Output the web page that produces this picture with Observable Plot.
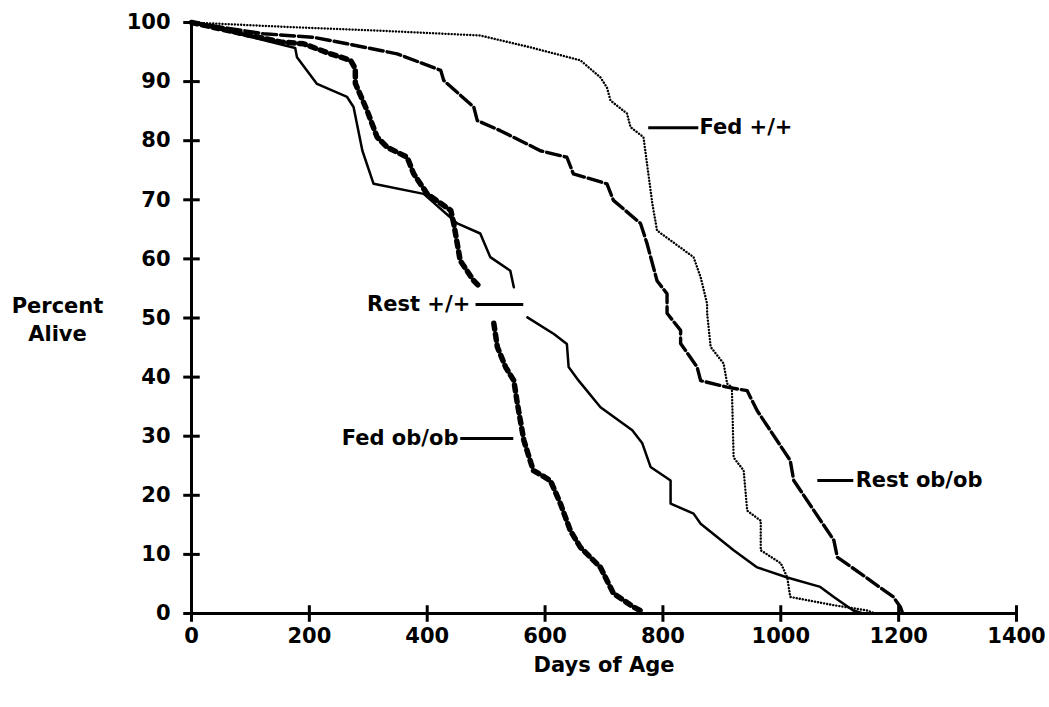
<!DOCTYPE html>
<html>
<head>
<meta charset="utf-8">
<script src="https://cdn.jsdelivr.net/npm/d3@7"></script>
<script src="https://cdn.jsdelivr.net/npm/@observablehq/plot@0.6"></script>
<style>
  html, body { margin: 0; padding: 0; background: #fff; }
  svg { display: block; }
</style>
</head>
<body>
<div id="chart"></div>
<script>
// ---- Data (days of age, percent alive) ----
// null entries mark the gaps left in the curves around the "Rest +/+" label
const restWT = [[0,100],[176,95.7],[179,94.1],[213,89.6],[264,87.4],[275,85.7],[290,78.3],[309,72.7],[394,71.0],[451,66.0],[490,64.3],[507,60.3],[541,58.0],[547,55.2],[null,null],[570,50.1],[615,47.3],[637,45.6],[640,41.7],[657,39.4],[694,34.9],[748,31.0],[765,28.8],[779,24.8],[813,22.5],[813,18.6],[852,16.9],[864,15.2],[920,10.7],[960,7.8],[1011,6.1],[1067,4.5],[1090,2.8],[1123,0.5],[1140,0]];
const fedOb = [[0,100],[151,96.7],[190,96.4],[236,94.7],[270,93.6],[278,92.2],[278,89.7],[298,85.1],[315,80.6],[332,78.9],[366,77.2],[377,74.4],[400,71.0],[440,68.2],[445,66.0],[456,59.7],[479,56.3],[490,55.2],[null,null],[513,49.1],[519,45.1],[533,41.7],[547,39.4],[553,35.5],[564,29.3],[580,24.2],[609,22.5],[626,18.6],[643,14.0],[660,11.2],[694,7.8],[705,5.6],[716,3.4],[750,1.1],[767,0.2]];
const restOb = [[0,100],[122,98.1],[207,97.5],[264,96.4],[349,94.7],[423,91.9],[428,90.2],[479,85.7],[485,83.4],[524,81.7],[592,78.3],[637,77.2],[648,74.4],[705,72.7],[716,69.9],[762,66.0],[773,62.6],[790,56.3],[807,54.1],[807,50.8],[830,47.9],[830,45.7],[858,41.7],[864,39.4],[909,38.3],[943,37.7],[960,34.3],[1016,25.9],[1022,22.5],[1090,12.4],[1096,9.5],[1135,6.8],[1191,2.8],[1203,1.1],[1207,0]];
const fedWT = [[0,100],[150,99.3],[321,98.6],[490,97.8],[575,95.8],[660,93.6],[694,90.7],[705,89.0],[711,86.8],[739,84.6],[745,82.3],[767,80.6],[773,76.1],[782,69.4],[790,64.8],[852,60.3],[864,56.9],[875,52.4],[875,50.8],[881,45.1],[903,42.3],[909,38.9],[917,38.3],[920,26.4],[937,24.2],[943,17.4],[966,15.7],[966,10.7],[1000,8.5],[1011,6.1],[1016,2.8],[1090,1.4],[1147,0.5],[1160,0]];

const xTicks = [0,200,400,600,800,1000,1200,1400];
const yTicks = [0,10,20,30,40,50,60,70,80,90,100];

// annotation labels: text, text anchor point, leader line start/end (data units)
const labelsRight = [
  {text:"Fed +/+",    tx:862,  ty:82.2, x1:775,  x2:860},
  {text:"Rest ob/ob", tx:1127, ty:22.5, x1:1062, x2:1123}
];
const labelsLeft = [
  {text:"Rest +/+",   tx:473,  ty:52.3, x1:482,  x2:563},
  {text:"Fed ob/ob",  tx:453,  ty:29.6, x1:456,  x2:546}
];

const toObj = a => a.map(([d,p]) => ({d, p}));
const font = "DejaVu Sans, sans-serif";
const fs = 21;

const plot = Plot.plot({
  width: 1049,
  height: 707,
  marginLeft: 191,
  marginRight: 33,
  marginTop: 22,
  marginBottom: 94,
  style: {fontFamily: font, fontSize: fs + "px", fontWeight: "bold", color: "#000", background: "#fff"},
  x: {domain: [0, 1400]},
  y: {domain: [0, 100]},
  marks: [
    // axis tick labels
    Plot.axisX({ticks: xTicks, tickFormat: d => String(d), tickSize: 0, tickPadding: 15, fontSize: fs, fontWeight: "bold",
                label: "Days of Age", labelAnchor: "center", labelArrow: "none", labelOffset: 58}),
    Plot.axisY({ticks: yTicks, tickFormat: d => String(d), tickSize: 0, tickPadding: 21, fontSize: fs, fontWeight: "bold", label: null}),
    // y-axis title (two lines, horizontal)
    Plot.text(["Percent\nAlive"], {frameAnchor: "left", dx: -134, dy: 0, text: d => d,
      fontSize: fs, fontWeight: "bold", textAnchor: "middle", lineHeight: 1.35}),
    // axis lines
    Plot.ruleY([0], {strokeWidth: 3}),
    Plot.ruleX([0], {strokeWidth: 3}),
    // cross tick marks
    Plot.link(xTicks, {x1: d => d, x2: d => d, y1: -1.4, y2: 1.4, strokeWidth: 3}),
    Plot.link(yTicks, {y1: d => d, y2: d => d, x1: -14, x2: 14, strokeWidth: 3}),
    // survival curves
    Plot.line(toObj(fedWT),  {x: "d", y: "p", stroke: "#000", strokeWidth: 2.4, strokeDasharray: "0.1,3", strokeLinecap: "round"}),
    Plot.line(toObj(restOb), {x: "d", y: "p", stroke: "#000", strokeWidth: 3.4, strokeDasharray: "14,4", strokeLinecap: "round"}),
    Plot.line(toObj(fedOb),  {x: "d", y: "p", stroke: "#000", strokeWidth: 5.5, strokeDasharray: "6,5", strokeLinecap: "round"}),
    Plot.line(toObj(restWT), {x: "d", y: "p", stroke: "#000", strokeWidth: 2.5}),
    // annotation leaders and text
    Plot.link(labelsRight.concat(labelsLeft), {x1: "x1", x2: "x2", y1: "ty", y2: "ty", strokeWidth: 3}),
    Plot.text(labelsRight, {x: "tx", y: "ty", text: "text", textAnchor: "start", fontSize: fs, fontWeight: "bold"}),
    Plot.text(labelsLeft, {x: "tx", y: "ty", text: "text", textAnchor: "end", fontSize: fs, fontWeight: "bold"})
  ]
});
document.getElementById("chart").appendChild(plot);
</script>
</body>
</html>
